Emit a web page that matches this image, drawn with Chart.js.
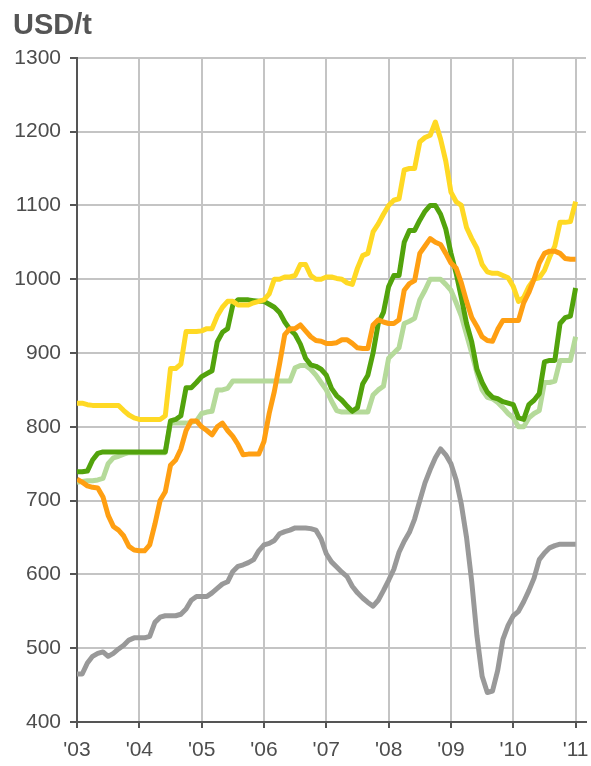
<!DOCTYPE html>
<html>
<head>
<meta charset="utf-8">
<script src="https://cdn.jsdelivr.net/npm/chart.js@4.4.1/dist/chart.umd.min.js"></script>
<style>
  html, body { margin: 0; padding: 0; background: #fff; }
  #wrap { width: 591px; height: 766px; position: relative; }
</style>
</head>
<body>
<div id="wrap"><canvas id="priceChart"></canvas></div>
<script>
// monthly values, Jan 2003 .. Jan 2011
const yearLabels = ["'03", "'04", "'05", "'06", "'07", "'08", "'09", "'10", "'11"];

const yellowSeries = [
  832, 832, 830, 829, 829, 829, 829, 829, 829, 822, 816, 812,
  810, 810, 810, 810, 810, 815, 879, 879, 885, 929, 929, 929,
  930, 933, 933, 950, 962, 970, 970, 965, 965, 965, 968, 970,
  972, 980, 1000, 1000, 1003, 1003, 1005, 1020, 1020, 1005, 1000, 1000,
  1003, 1003, 1001, 1000, 995, 993, 1015, 1032, 1035, 1064, 1075, 1088,
  1100, 1107, 1109, 1148, 1150, 1150, 1186, 1192, 1195, 1213, 1190, 1160,
  1118, 1105, 1100, 1070, 1055, 1042, 1020, 1010, 1008, 1008, 1005, 1002,
  990, 970, 975, 990, 1000, 1002, 1012, 1030, 1045, 1077, 1077, 1078,
  1105
];

const darkGreenSeries = [
  739, 739, 740, 755, 764, 766, 766, 766, 766, 766, 766, 766,
  766, 766, 766, 766, 766, 766, 808, 810, 815, 853, 853, 860,
  868, 872, 876, 915, 928, 933, 965, 972, 972, 972, 971, 970,
  970, 966, 962, 955, 942, 932, 925, 912, 893, 884, 882, 878,
  870, 852, 842, 836, 828, 821, 826, 858, 870, 900, 940, 955,
  990, 1005, 1005, 1050, 1066, 1066, 1080, 1092, 1100, 1100, 1088, 1068,
  1035, 1008, 975, 940, 915, 878, 860, 847, 840, 838, 834, 832,
  830, 812, 810, 830, 836, 845, 888, 890, 890, 940, 948, 950,
  988
];

const lightGreenSeries = [
  725, 726, 727, 727, 728, 730, 750, 758, 760, 763, 765, 765,
  765, 765, 765, 765, 765, 765, 805, 805, 805, 805, 806, 808,
  818, 820, 821, 850, 850, 852, 862, 862, 862, 862, 862, 862,
  862, 862, 862, 862, 862, 862, 880, 883, 883, 878, 870, 860,
  850, 835, 822, 820, 820, 820, 820, 820, 820, 843, 850, 855,
  893, 900, 907, 940, 943, 947, 972, 985, 1000, 1000, 1000, 993,
  985, 968, 950, 925, 900, 873, 850, 840, 838, 833, 826, 818,
  812, 800, 800, 812, 818, 822, 860, 860, 862, 890, 890, 890,
  922
];

const orangeSeries = [
  729, 725, 720, 718, 717, 705, 680, 665, 660, 652, 638, 633,
  632, 632, 640, 668, 700, 712, 748, 755, 770, 795, 808, 808,
  800, 795, 789, 800, 805, 795, 787, 776, 762, 763, 763, 763,
  780, 818, 848, 885, 925, 933, 933, 938, 930, 922, 917, 916,
  913, 913, 914, 918, 918, 913, 907, 906, 906, 938, 945, 942,
  940, 940, 945, 985, 994, 998, 1035, 1045, 1055, 1050, 1047, 1035,
  1022, 1015, 995, 970, 948, 936, 922, 917, 916, 932, 944, 944,
  944, 944, 968, 982, 1000, 1022, 1035, 1038, 1038, 1035, 1028, 1027,
  1027
];

const greySeries = [
  465, 465, 480, 489, 493, 495, 489, 493, 499, 504, 511, 514,
  514, 514, 516, 535, 542, 544, 544, 544, 546, 553, 565, 570,
  570, 570, 575, 581, 587, 590, 604, 611, 613, 616, 620, 632,
  640, 642, 646, 655, 658, 660, 663, 663, 663, 662, 660, 648,
  628, 617, 610, 603, 597, 584, 575, 568, 562, 557, 565, 578,
  592, 607, 630, 645, 657, 675, 700, 724, 742, 758, 770, 762,
  750, 728, 695, 650, 590, 517, 462, 440, 442, 470, 512, 531,
  544, 550, 563, 578, 595, 620, 629, 636, 639, 641, 641, 641,
  641
];

function toPoints(values) {
    return values.map((v, i) => ({ x: i, y: v }));
}

function lineSet(values, color) {
    return {
        data: toPoints(values),
        borderColor: color,
        borderWidth: 5,
        pointRadius: 0,
        tension: 0,
        fill: false,
        borderJoinStyle: 'round',
        borderCapStyle: 'butt'
    };
}

const labelFont = { family: "'Liberation Sans', Arial, sans-serif", size: 21 };

const ctx = document.getElementById('priceChart').getContext('2d');
new Chart(ctx, {
    type: 'line',
    data: {
        datasets: [
            lineSet(orangeSeries, '#ff9f12'),
            lineSet(yellowSeries, '#ffd924'),
            lineSet(darkGreenSeries, '#52a30c'),
            lineSet(lightGreenSeries, '#b5da9a'),
            lineSet(greySeries, '#999999')
        ]
    },
    options: {
        responsive: true,
        maintainAspectRatio: false,
        animation: false,
        layout: { padding: { left: 13, right: 5, top: 0, bottom: 2 } },
        plugins: {
            legend: { display: false },
            tooltip: { enabled: false },
            title: {
                display: true,
                text: 'USD/t',
                align: 'start',
                color: '#555555',
                font: { family: "'Liberation Sans', Arial, sans-serif", size: 29, weight: 'bold' },
                padding: { top: 9, bottom: 14 }
            }
        },
        scales: {
            x: {
                type: 'linear',
                min: 0,
                max: 98,
                afterFit: (scale) => {
                    scale.height = 42;
                    scale.paddingLeft = 0;
                    scale.paddingRight = 0;
                },
                grid: { color: '#c4c4c4', lineWidth: 2, tickColor: '#555555', tickLength: 6 },
                border: { color: '#555555', width: 2 },
                ticks: {
                    stepSize: 12,
                    includeBounds: false,
                    autoSkip: false,
                    maxRotation: 0,
                    padding: 10,
                    color: '#4d4d4d',
                    font: labelFont,
                    callback: (value) => value % 12 === 0 ? yearLabels[value / 12] : ''
                }
            },
            y: {
                min: 400,
                max: 1300,
                afterFit: (scale) => {
                    scale.width = 64;
                },
                grid: { color: '#c4c4c4', lineWidth: 2, tickColor: '#555555', tickLength: 7 },
                border: { color: '#555555', width: 2 },
                ticks: {
                    stepSize: 100,
                    padding: 9,
                    color: '#4d4d4d',
                    font: labelFont,
                    callback: (value) => String(value)
                }
            }
        }
    }
});
</script>
</body>
</html>
